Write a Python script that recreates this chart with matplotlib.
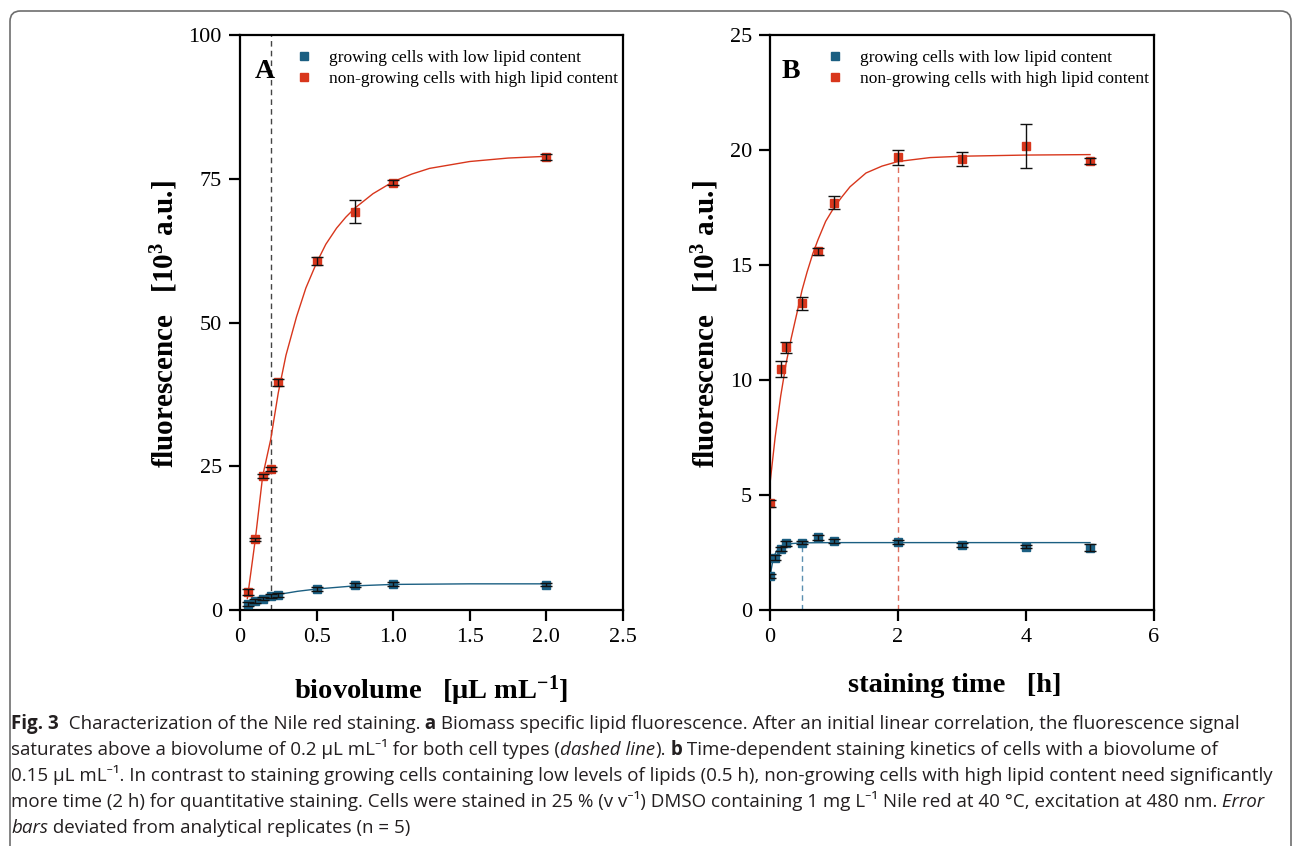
import numpy as np
import matplotlib
matplotlib.use("Agg")
import matplotlib.pyplot as plt
from matplotlib.lines import Line2D
from matplotlib.patches import FancyBboxPatch

plt.rcParams['font.family'] = ['Liberation Serif', 'DejaVu Serif']
plt.rcParams['mathtext.fontset'] = 'custom'
plt.rcParams['mathtext.rm'] = 'Liberation Serif'
plt.rcParams['mathtext.it'] = 'Liberation Serif:italic'
plt.rcParams['mathtext.bf'] = 'Liberation Serif:bold'

# ---- data: panel A (biovolume) ----
bv_x = [0.05, 0.1, 0.15, 0.2, 0.25, 0.5, 0.75, 1.0, 2.0]
bv_high = [3.1, 12.3, 23.3, 24.5, 39.6, 60.7, 69.3, 74.3, 78.8]
bv_high_err = [0.5, 0.3, 0.3, 0.4, 0.6, 0.7, 2.0, 0.4, 0.5]
bv_low = [1.05, 1.55, 2.0, 2.4, 2.6, 3.65, 4.35, 4.5, 4.4]
bv_low_err = [0.3, 0.3, 0.3, 0.3, 0.3, 0.3, 0.3, 0.3, 0.3]

# fitted curves
fitA_x = [0.048, 0.1, 0.148, 0.2, 0.25, 0.3, 0.369, 0.43, 0.5, 0.56, 0.63, 0.69, 0.75,
          0.868, 1.0, 1.12, 1.237, 1.5, 1.75, 2.0]
fitA_high = [2.0, 12.3, 23.3, 29.6, 37.8, 44.3, 51.0, 56.0, 60.4, 63.6, 66.4, 68.3, 69.9,
             72.4, 74.5, 75.8, 76.8, 78.0, 78.6, 78.9]
fitA_lx = [0.05, 0.1, 0.15, 0.2, 0.25, 0.375, 0.5, 0.75, 1.0, 1.5, 2.0]
fitA_low = [1.05, 1.55, 2.0, 2.35, 2.7, 3.25, 3.65, 4.2, 4.45, 4.55, 4.55]

# ---- data: panel B (staining time) ----
t_high = [0.0, 0.167, 0.25, 0.5, 0.75, 1.0, 2.0, 3.0, 4.0, 5.0]
st_high = [4.65, 10.46, 11.42, 13.33, 15.6, 17.71, 19.68, 19.6, 20.17, 19.53]
st_high_err = [0.15, 0.35, 0.24, 0.28, 0.16, 0.29, 0.32, 0.3, 0.95, 0.13]
t_low = [0.0, 0.083, 0.167, 0.25, 0.5, 0.75, 1.0, 2.0, 3.0, 4.0, 5.0]
st_low = [1.48, 2.27, 2.64, 2.9, 2.93, 3.16, 2.99, 2.95, 2.82, 2.76, 2.7]
st_low_err = [0.08, 0.1, 0.08, 0.1, 0.08, 0.12, 0.08, 0.08, 0.08, 0.08, 0.15]

fitB_x = [0.0, 0.08, 0.167, 0.25, 0.33, 0.42, 0.5, 0.58, 0.67, 0.75, 0.87, 1.0, 1.12,
          1.25, 1.5, 1.75, 2.0, 2.5, 3.0, 4.0, 5.0]
fitB_high = [5.5, 7.5, 9.3, 10.7, 11.8, 12.9, 13.9, 14.7, 15.5, 16.1, 16.9, 17.5, 17.95,
             18.4, 19.0, 19.3, 19.5, 19.67, 19.73, 19.78, 19.8]
fitB_lx = [0.0, 0.05, 0.1, 0.15, 0.235, 0.35, 0.5, 1.0, 2.0, 5.0]
fitB_low = [1.45, 2.25, 2.55, 2.7, 2.83, 2.89, 2.92, 2.93, 2.93, 2.93]

labels = ['growing cells with low lipid content', 'non-growing cells with high lipid content']
blue = '#1b5f82'
red = '#d8361c'

W, H = 1293, 846
fig = plt.figure(figsize=(W / 100, H / 100), dpi=100)

border = FancyBboxPatch((10 / W, -0.1), (1291 - 10) / W, (846 - 11) / H + 0.1,
                        boxstyle='round,pad=0,rounding_size=0.008', mutation_aspect=W / H,
                        transform=fig.transFigure, fc='none', ec='#6e6e6e', lw=1.2)
fig.patches.append(border)

axA = fig.add_axes([240 / W, (846 - 610) / H, 383 / W, 575 / H])
axB = fig.add_axes([770 / W, (846 - 610) / H, 384 / W, 575 / H])


def draw_points(ax, x, y, err, color):
    ax.plot(x, y, 's', color=color, markersize=6, zorder=3)
    ax.errorbar(x, y, yerr=err, fmt='none', ecolor='#111111', elinewidth=1.0,
                capsize=4.5, capthick=1.0, zorder=4)


# panel A
axA.axvline(0.2, color='#444444', lw=1.0, ls=(0, (4, 3)), zorder=1)
axA.plot(fitA_x, fitA_high, color=red, lw=1.0, zorder=2)
axA.plot(fitA_lx, fitA_low, color=blue, lw=1.0, zorder=2)
draw_points(axA, bv_x, bv_low, bv_low_err, blue)
draw_points(axA, bv_x, bv_high, bv_high_err, red)
axA.set_xlim(0, 2.5)
axA.set_ylim(0, 100)
axA.set_xticks([0, 0.5, 1.0, 1.5, 2.0, 2.5])
axA.set_xticklabels(['0', '0.5', '1.0', '1.5', '2.0', '2.5'])
axA.set_yticks([0, 25, 50, 75, 100])
axA.set_xlabel(r'biovolume   [μL mL$^{\mathbf{-1}}$]', fontsize=20.5, fontweight='bold')
axA.set_ylabel(r'fluorescence   [10$^{\mathbf{3}}$ a.u.]', fontsize=21, fontweight='bold')
axA.xaxis.set_label_coords(0.5, -0.11)
axA.yaxis.set_label_coords(-0.157, 0.497)
axA.text(0.065, 0.937, 'A', transform=axA.transAxes, fontsize=20, fontweight='bold',
         ha='center', va='center')

# panel B
axB.plot([0.5, 0.5], [0, fitB_low[6]], color='#5b8fb0', lw=1.0, ls=(0, (4, 3)), zorder=1)
axB.plot([2.0, 2.0], [0, fitB_high[16]], color='#e0705f', lw=1.0, ls=(0, (4, 3)), zorder=1)
axB.plot(fitB_x, fitB_high, color=red, lw=1.0, zorder=2)
axB.plot(fitB_lx, fitB_low, color=blue, lw=1.0, zorder=2)
draw_points(axB, t_low, st_low, st_low_err, blue)
draw_points(axB, t_high, st_high, st_high_err, red)
axB.set_xlim(0, 6)
axB.set_ylim(0, 25)
axB.set_xticks([0, 2, 4, 6])
axB.set_yticks([0, 5, 10, 15, 20, 25])
axB.set_xlabel('staining time   [h]', fontsize=20.5, fontweight='bold')
axB.set_ylabel(r'fluorescence   [10$^{\mathbf{3}}$ a.u.]', fontsize=21, fontweight='bold')
axB.xaxis.set_label_coords(0.48, -0.11)
axB.yaxis.set_label_coords(-0.127, 0.497)
axB.text(0.055, 0.937, 'B', transform=axB.transAxes, fontsize=20, fontweight='bold',
         ha='center', va='center')

for ax in (axA, axB):
    for s in ax.spines.values():
        s.set_linewidth(1.6)
    ax.tick_params(direction='out', length=8, width=1.6, labelsize=16, pad=5)
    handles = [Line2D([], [], marker='s', ls='none', color=blue, markersize=6),
               Line2D([], [], marker='s', ls='none', color=red, markersize=6)]
    ax.legend(handles, labels, loc='upper right', frameon=False, fontsize=12.5,
              handletextpad=0.8, handlelength=1.2, labelspacing=0.25,
              borderaxespad=0.3, bbox_to_anchor=(1.018, 0.995))

# caption with mixed styles
renderer = fig.canvas.get_renderer()
cap_family = ['Open Sans', 'Noto Sans', 'DejaVu Sans']
cap_fs = 13.5
lines = [
    [('Fig. 3', 'b'), ('  Characterization of the Nile red staining.', 'n'), (' a', 'b'),
     (' Biomass specific lipid fluorescence. After an initial linear correlation, the fluorescence signal', 'n')],
    [('saturates above a biovolume of 0.2 µL mL⁻¹ for both cell types (', 'n'), ('dashed line', 'i'),
     (').', 'n'), (' b', 'b'), (' Time-dependent staining kinetics of cells with a biovolume of', 'n')],
    [('0.15 µL mL⁻¹. In contrast to staining growing cells containing low levels of lipids (0.5 h), '
      'non-growing cells with high lipid content need significantly', 'n')],
    [('more time (2 h) for quantitative staining. Cells were stained in 25 % (v v⁻¹) DMSO containing '
      '1 mg L⁻¹ Nile red at 40 °C, excitation at 480 nm.', 'n'), (' Error', 'i')],
    [('bars', 'i'), (' deviated from analytical replicates (n = 5)', 'n')],
]
for i, runs in enumerate(lines):
    y = 729 + i * 26
    x = 11
    for txt, st in runs:
        t = fig.text(x / W, 1 - y / H, txt, fontsize=cap_fs, family=cap_family,
                     fontweight='bold' if st == 'b' else 'normal',
                     fontstyle='italic' if st == 'i' else 'normal',
                     color='#231f20', ha='left', va='baseline')
        x += t.get_window_extent(renderer).width

fig.savefig('out.png', dpi=100)
